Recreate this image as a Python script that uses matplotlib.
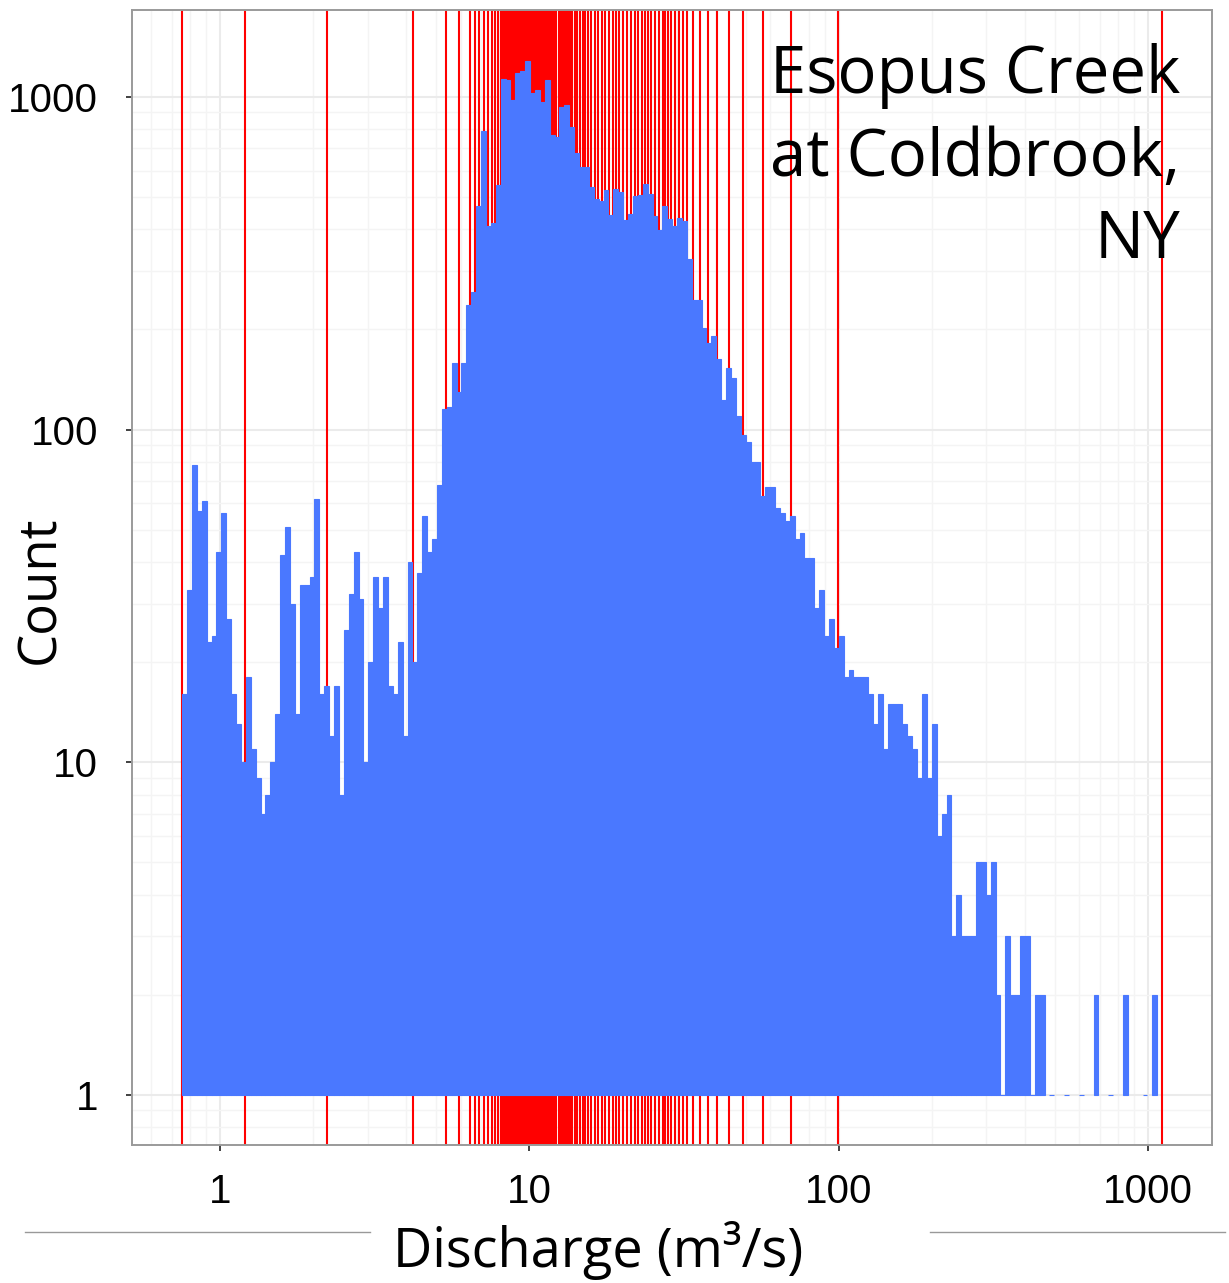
import numpy as np
import matplotlib
matplotlib.use("Agg")
import matplotlib.pyplot as plt
from matplotlib.ticker import LogLocator, NullFormatter, FixedLocator
from matplotlib.lines import Line2D

# === 1. Data ===

# daily discharge range (m3/s) -> 200 equal log bins between min and max
q_min = 0.755
q_max = 1110.0
n_bins = 200

# counts per bin, left to right
counts_low = [16, 33, 78, 57, 61, 23, 24, 43, 56, 27, 16, 13, 10, 18, 11, 9, 7, 8,
              10, 14, 42, 51, 30, 14, 34, 34, 36, 62, 16, 17, 12, 17, 8]
counts_rise = [25, 32, 43, 31, 10, 20, 36, 29, 36, 17, 16, 23, 12, 40, 20, 37, 55,
               43, 47, 68, 115, 117, 159, 130, 159, 237, 259, 470, 788, 410, 417, 542]
counts_peak = [1129, 1124, 980, 1178, 1200, 1285, 1030, 1050, 968, 1124, 768, 760,
               935, 946, 810, 677, 617, 617, 537, 492, 488, 525, 440, 527, 519, 427,
               445, 505, 507, 547, 511, 438, 398]
counts_fall = [470, 429, 410, 433, 424, 326, 246, 246, 202, 182, 191, 163, 123, 153,
               143, 110, 96, 92, 80, 80, 63, 67, 67, 58, 56, 53, 55, 47, 49, 41, 41]
counts_tail = [29, 33, 24, 27, 22, 24, 18, 19, 18, 18, 18, 16, 13, 16, 11, 15, 15, 15,
               13, 12, 11, 9, 16, 9, 13, 6, 7, 8, 3, 4, 3]
counts_end = [3, 3, 5, 5, 4, 5, 2, 1, 3, 2, 2, 3, 3, 1, 2, 2, 0, 1, 0, 0, 1, 0, 0, 1,
              0, 0, 2, 0, 0, 1, 0, 0, 2, 0, 0, 0, 1, 0, 2, 0]

# percentiles 0..100 of discharge (red lines)
pct_values = [0.755, 1.203, 2.225, 4.209, 5.364, 5.928, 6.413, 6.691, 6.859, 7.118,
              7.355, 7.578, 7.726, 7.930, 8.109, 8.199, 8.298, 8.390, 8.491, 8.587,
              8.689, 8.800, 8.912, 9.026, 9.128, 9.229, 9.326, 9.431, 9.535, 9.643,
              9.743, 9.845, 9.948, 10.04, 10.16, 10.29, 10.42, 10.54, 10.67, 10.80,
              10.94, 11.09, 11.24, 11.37, 11.50, 11.64, 11.83, 12.03, 12.24, 12.45,
              12.64, 12.82, 12.99, 13.18, 13.36, 13.55, 13.78, 14.01, 14.27, 14.56,
              14.87, 15.19, 15.51, 15.87, 16.28, 16.71, 17.16, 17.62, 18.05, 18.60,
              19.08, 19.56, 20.07, 20.65, 21.28, 21.89, 22.45, 23.05, 23.62, 24.19,
              24.81, 25.52, 26.30, 26.96, 27.51, 28.07, 28.77, 29.48, 30.37, 31.29,
              32.32, 33.70, 35.50, 37.68, 40.35, 44.29, 48.90, 56.80, 69.98, 99.6,
              1110.0]

x_ticks = [1, 10, 100, 1000]
x_tick_labels = ["1", "10", "100", "1000"]
y_ticks = [1, 10, 100, 1000]
y_tick_labels = ["1", "10", "100", "1000"]

# === 2. Prepare bins ===
counts = np.array(counts_low + counts_rise + counts_peak + counts_fall + counts_tail + counts_end)
edges = np.logspace(np.log10(q_min), np.log10(q_max), n_bins + 1)
keep = counts > 0

# === 3. Plot ===
blue = "#4A78FF"
fig = plt.figure(figsize=(12.29, 12.83), dpi=100)
ax = fig.add_axes([0.107, 0.1076, 0.8788, 0.8846])
ax.set_xscale("log")
ax.set_yscale("log")
ax.set_xlim(0.518, 1603)
ax.set_ylim(0.708, 1824)

ax.set_axisbelow(True)
ax.grid(True, which="major", color="#EBEBEB", linewidth=1.5)
ax.grid(True, which="minor", color="#F4F4F4", linewidth=1.0)

# percentile lines behind the bars
ax.vlines(pct_values, 0, 1, transform=ax.get_xaxis_transform(),
          colors="#FF0000", linewidth=1.5, zorder=1.5)

ax.bar(edges[:-1][keep], counts[keep] - 1, width=np.diff(edges)[keep], bottom=1,
       align="edge", color=blue, edgecolor=blue, linewidth=0.8, zorder=2)

ax.xaxis.set_major_locator(FixedLocator(x_ticks))
ax.set_xticklabels(x_tick_labels)
ax.yaxis.set_major_locator(FixedLocator(y_ticks))
ax.set_yticklabels(y_tick_labels)
ax.xaxis.set_minor_locator(LogLocator(base=10, subs=np.arange(2, 10)))
ax.yaxis.set_minor_locator(LogLocator(base=10, subs=np.arange(2, 10)))
ax.xaxis.set_minor_formatter(NullFormatter())
ax.yaxis.set_minor_formatter(NullFormatter())
ax.tick_params(which="minor", length=0)
ax.tick_params(which="major", length=4, width=1.3, color="#333333",
               labelsize=29, labelcolor="black")
ax.tick_params(axis="y", pad=20)
ax.tick_params(axis="x", pad=16)
for lab in ax.get_xticklabels() + ax.get_yticklabels():
    lab.set_family("Liberation Sans")

for sp in ax.spines.values():
    sp.set_color("#9A9A9A")
    sp.set_linewidth(1.4)

# station name
name_font = dict(family=["Open Sans", "DejaVu Sans"], fontsize=47, color="black",
                 ha="right", va="baseline")
fig.text(1180 / 1229, 1 - 93 / 1283, "Esopus Creek", **name_font)
fig.text(1180 / 1229, 1 - 176 / 1283, "at Coldbrook,", **name_font)
fig.text(1180 / 1229, 1 - 258 / 1283, "NY", **name_font)

# axis labels
fig.text(41 / 1229, 1 - 590 / 1283, "Count", rotation=90, ha="center", va="center",
         family=["Open Sans", "DejaVu Sans"], fontsize=38)
fig.text(598 / 1229, 1 - 1250 / 1283, "Discharge (m³/s)", ha="center", va="center",
         family=["Open Sans", "DejaVu Sans"], fontsize=39)

# thin rules either side of the x label
for x0, x1 in [(25, 370), (930, 1225)]:
    fig.add_artist(Line2D([x0 / 1229, x1 / 1229], [1 - 1232 / 1283] * 2,
                          transform=fig.transFigure, color="#999999", linewidth=1))

fig.savefig("out.png", dpi=100)
